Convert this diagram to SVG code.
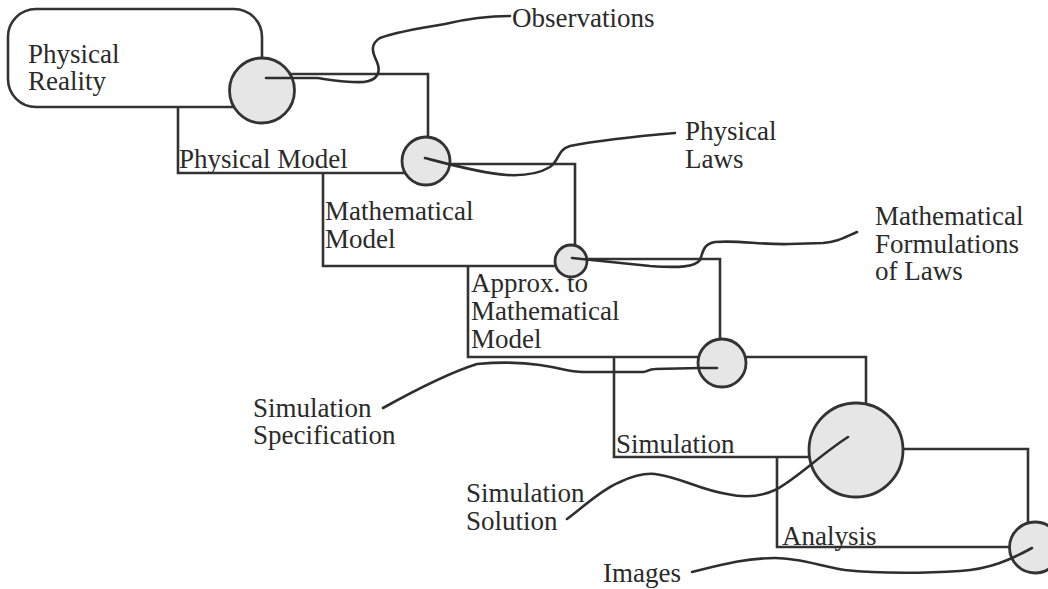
<svg xmlns="http://www.w3.org/2000/svg" width="1048" height="589" viewBox="0 0 1048 589">
<style>
.ln{fill:none;stroke:#333;stroke-width:2.6;stroke-linejoin:miter}
.jn{fill:#e6e6e6;stroke:#333;stroke-width:2.8}
.sq{fill:none;stroke:#2e2e2e;stroke-width:2.6;stroke-linecap:round;stroke-linejoin:round}
text{font-family:"Liberation Serif","Times New Roman",serif;font-size:27px;fill:#2a2a2a}
</style>
<rect width="1048" height="589" fill="#fff"/>

<g id="physical-reality">
<path class="ln" d="M262,60 V37 A28,28 0 0 0 234,9 H36 A28,28 0 0 0 8,37 V79 A28,28 0 0 0 36,107 H245"/>
<text x="28" y="63">Physical</text>
<text x="28" y="90">Reality</text>
</g>

<g id="physical-model">
<path class="ln" d="M262,74 H428 V150 M178,107 V173 H420"/>
<text x="179" y="168">Physical Model</text>
</g>

<g id="mathematical-model">
<path class="ln" d="M426,164 H575 V252 M323,173 V266 H565"/>
<text x="325" y="220">Mathematical</text>
<text x="325" y="248">Model</text>
</g>

<g id="approx-model">
<path class="ln" d="M572,259 H720 V350 M468,266 V357 H715"/>
<text x="471" y="292">Approx. to</text>
<text x="471" y="320">Mathematical</text>
<text x="471" y="348">Model</text>
</g>

<g id="simulation">
<path class="ln" d="M722,357 H866 V430 M614,357 V457 H840"/>
<text x="616" y="453">Simulation</text>
</g>

<g id="analysis">
<path class="ln" d="M856,449 H1028 V540 M777,457 V547 H1030"/>
<text x="782" y="545">Analysis</text>
</g>

<g id="junctions">
<circle id="j-observations" class="jn" cx="262" cy="90.5" r="32.5"/>
<circle id="j-physical-laws" class="jn" cx="426" cy="161" r="24"/>
<circle id="j-formulations" class="jn" cx="571" cy="261" r="16"/>
<circle id="j-sim-spec" class="jn" cx="722" cy="363" r="24"/>
<circle id="j-sim-solution" class="jn" cx="856" cy="450" r="47"/>
<circle id="j-images" class="jn" cx="1035" cy="547.5" r="25.5"/>
</g>

<g id="connectors">
<path class="sq" d="M266,78 L317,78 C332,80 350,83 364,82 C378,80 381,72 377,62 C372,52 370,44 380,38 C396,32 420,28 445,24 C470,18 490,16 510,16"/>
<path class="sq" d="M425,158 C448,164 480,173 507,175 C525,176 540,173 550,167 C560,160 557,150 570,146 C600,140 640,136 675,133"/>
<path class="sq" d="M572,258 L650,266 C680,268 695,267 700,260 C703,252 703,244 715,242 C740,240 760,245 790,244 L823,243 C838,242 845,237 857,232"/>
<path class="sq" d="M383,408 C410,393 445,374 477,364 C500,362 520,362 540,365 C560,368 570,372 583,372 L643,372 C648,372 648,369 655,369 L700,368 L717,368"/>
<path class="sq" d="M567,519 C580,510 600,490 620,482 C635,475 645,473 655,474 C680,477 700,490 727,494 C745,498 760,497 775,490 C795,480 820,455 848,437"/>
<path class="sq" d="M692,572 C720,565 745,558 775,558 C800,558 820,566 845,570 C880,574 930,573 960,571 C990,569 1010,560 1032,548"/>
</g>

<g id="label-observations"><text x="512" y="27">Observations</text></g>
<g id="label-physical-laws">
<text x="685" y="140">Physical</text>
<text x="685" y="168">Laws</text>
</g>
<g id="label-formulations">
<text x="875" y="225">Mathematical</text>
<text x="875" y="253">Formulations</text>
<text x="875" y="280">of Laws</text>
</g>
<g id="label-sim-spec">
<text x="253" y="417">Simulation</text>
<text x="253" y="444">Specification</text>
</g>
<g id="label-sim-solution">
<text x="466" y="502">Simulation</text>
<text x="466" y="530">Solution</text>
</g>
<g id="label-images"><text x="603" y="582">Images</text></g>
</svg>
